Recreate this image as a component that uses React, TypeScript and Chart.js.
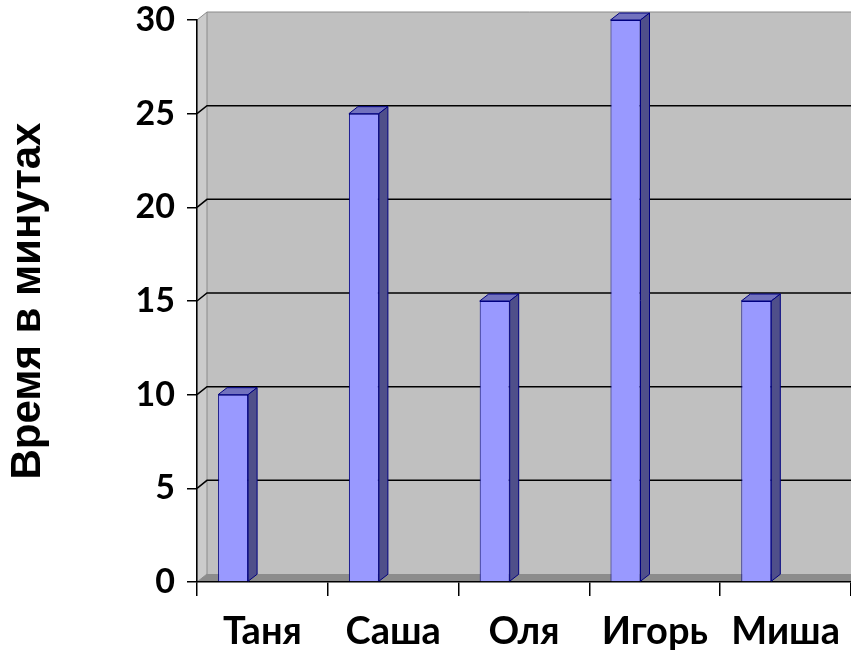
import React, { useEffect, useRef } from "react";
import { Chart, registerables } from "chart.js";

Chart.register(...registerables);

const categories = ["Таня", "Саша", "Оля", "Игорь", "Миша"];
const minutes = [10, 25, 15, 30, 15];
const depthSlot = [null, null, null, null, null];
const yTicks = [0, 5, 10, 15, 20, 25, 30];
const yTitle = "Время в минутах";

const WALL_DX = 10;
const WALL_DY = 8;
const BAR_DX = 9;
const BAR_DY = 7;

const wallsPlugin = {
  id: "walls3d",
  beforeDraw(chart: any) {
    const { ctx, chartArea: a } = chart;
    const y = chart.scales.y;
    const top = y.getPixelForValue(yTicks[yTicks.length - 1]);
    const bottom = y.getPixelForValue(yTicks[0]);
    const L = a.left;
    const R = chart.width + 20;
    ctx.save();
    ctx.fillStyle = "#C0C0C0";
    ctx.fillRect(L + WALL_DX, top - WALL_DY, R - (L + WALL_DX), bottom - top);
    ctx.beginPath();
    ctx.moveTo(L, top);
    ctx.lineTo(L + WALL_DX, top - WALL_DY);
    ctx.lineTo(L + WALL_DX, bottom - WALL_DY);
    ctx.lineTo(L, bottom);
    ctx.closePath();
    ctx.fillStyle = "#CBCBCB";
    ctx.fill();
    ctx.strokeStyle = "#8A8A8A";
    ctx.lineWidth = 1;
    ctx.stroke();
    ctx.beginPath();
    ctx.moveTo(L, bottom);
    ctx.lineTo(L + WALL_DX, bottom - WALL_DY);
    ctx.lineTo(R, bottom - WALL_DY);
    ctx.lineTo(R, bottom);
    ctx.closePath();
    ctx.fillStyle = "#8C8C8C";
    ctx.fill();
    ctx.beginPath();
    ctx.moveTo(L + WALL_DX, top - WALL_DY);
    ctx.lineTo(R, top - WALL_DY);
    ctx.strokeStyle = "#8A8A8A";
    ctx.stroke();
    ctx.strokeStyle = "#000000";
    ctx.lineWidth = 1.5;
    for (const v of yTicks) {
      if (v === yTicks[0] || v === yTicks[yTicks.length - 1]) continue;
      const py = y.getPixelForValue(v);
      ctx.beginPath();
      ctx.moveTo(L, py);
      ctx.lineTo(L + WALL_DX, py - WALL_DY);
      ctx.lineTo(R, py - WALL_DY);
      ctx.stroke();
    }
    ctx.restore();
  },
};

const barsPlugin = {
  id: "bars3d",
  afterDatasetsDraw(chart: any) {
    const { ctx } = chart;
    const meta = chart.getDatasetMeta(0);
    ctx.save();
    ctx.lineWidth = 1;
    ctx.strokeStyle = "#000080";
    ctx.lineJoin = "round";
    for (const el of meta.data) {
      const p = el.getProps(["x", "y", "base", "width"], true);
      const x1 = p.x - p.width / 2;
      const x2 = p.x + p.width / 2;
      const yt = p.y;
      const yb = p.base;
      ctx.beginPath();
      ctx.moveTo(x1, yt);
      ctx.lineTo(x1 + BAR_DX, yt - BAR_DY);
      ctx.lineTo(x2 + BAR_DX, yt - BAR_DY);
      ctx.lineTo(x2, yt);
      ctx.closePath();
      ctx.fillStyle = "#7272BE";
      ctx.fill();
      ctx.stroke();
      ctx.beginPath();
      ctx.moveTo(x2, yt);
      ctx.lineTo(x2 + BAR_DX, yt - BAR_DY);
      ctx.lineTo(x2 + BAR_DX, yb - BAR_DY);
      ctx.lineTo(x2, yb);
      ctx.closePath();
      ctx.fillStyle = "#4F4F8A";
      ctx.fill();
      ctx.stroke();
    }
    ctx.restore();
  },
};

export default function App() {
  const ref = useRef<HTMLCanvasElement | null>(null);

  useEffect(() => {
    if (!ref.current) return;
    const chart = new Chart(ref.current, {
      type: "bar",
      data: {
        labels: categories,
        datasets: [
          {
            data: minutes,
            backgroundColor: "#9999FF",
            borderColor: "#000080",
            borderWidth: 1,
            categoryPercentage: 0.896,
            barPercentage: 0.512,
          },
          {
            data: depthSlot,
            backgroundColor: "rgba(0,0,0,0)",
            categoryPercentage: 0.896,
            barPercentage: 0.512,
          },
        ],
      },
      options: {
        animation: false,
        responsive: false,
        devicePixelRatio: 1,
        layout: { padding: { top: 20, left: 0, right: 0, bottom: 0 } },
        plugins: { legend: { display: false }, tooltip: { enabled: false } },
        scales: {
          x: {
            type: "category",
            afterFit: (axis: any) => {
              axis.height = 74;
              axis.paddingLeft = 0;
              axis.paddingRight = 0;
            },
            grid: {
              offset: true,
              drawOnChartArea: false,
              drawTicks: true,
              tickLength: 14,
              color: "#000000",
              lineWidth: 1.5,
            },
            border: { display: true, color: "#000000", width: 1.5 },
            ticks: {
              font: { family: "Lato", weight: "bold", size: 38 },
              color: "#000000",
              padding: 13,
              maxRotation: 0,
              autoSkip: false,
            },
          },
          y: {
            min: yTicks[0],
            max: yTicks[yTicks.length - 1],
            afterFit: (axis: any) => {
              axis.width = 197;
              axis.paddingTop = 0;
              axis.paddingBottom = 0;
            },
            afterBuildTicks: (axis: any) => {
              axis.ticks = yTicks.map((v) => ({ value: v }));
            },
            grid: {
              drawOnChartArea: false,
              drawTicks: true,
              tickLength: 10,
              color: "#000000",
              lineWidth: 1.5,
            },
            border: { display: true, color: "#000000", width: 1.5 },
            ticks: {
              font: { family: "Lato", weight: "bold", size: 34 },
              color: "#000000",
              padding: 12,
            },
            title: {
              display: true,
              text: yTitle,
              color: "#000000",
              font: { family: "Liberation Sans", weight: "bold", size: 42 },
              padding: { top: 3, bottom: 0 },
            },
          },
        },
      },
      plugins: [wallsPlugin, barsPlugin],
    });
    return () => chart.destroy();
  }, []);

  return (
    <div style={{ position: "fixed", left: 0, top: 0, width: 851, height: 656, background: "#FFFFFF" }}>
      <canvas ref={ref} width={851} height={656} style={{ width: 851, height: 656, display: "block" }} />
    </div>
  );
}
